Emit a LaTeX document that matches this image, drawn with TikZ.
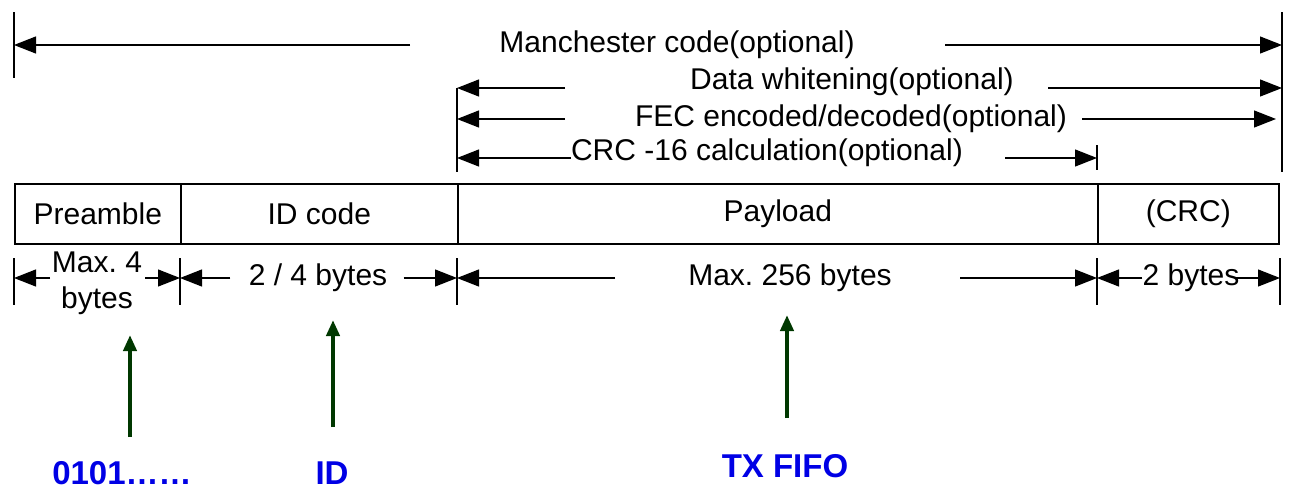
\documentclass[tikz,border=0pt]{standalone}
\usepackage{fontspec}
\setmainfont{Liberation Sans}
\usetikzlibrary{arrows.meta}
\colorlet{grx}{green!22!black}
\colorlet{blx}{blue!90!black}
\frenchspacing
\tikzset{
    dim/.style={-{Triangle[length=11pt,width=8.5pt]},line width=0.6pt},
    tick/.style={line width=0.6pt},
    lbl/.style={inner sep=0pt,font=\fontsize{15}{18}\selectfont},
    field/.style={draw,line width=0.8pt,anchor=north west,inner sep=0pt,
        minimum height=30pt,font=\fontsize{15}{18}\selectfont},
    up/.style={grx,line width=2pt,-{Triangle[length=8pt,width=6.5pt]}},
    src/.style={blx,inner sep=0pt,font=\bfseries\fontsize{16.5}{19}\selectfont}
}
\begin{document}
\begin{tikzpicture}[x=0.5pt,y=-0.5pt]
            \useasboundingbox (0,0) rectangle (1296,493);
            % frame fields
            \node [field,minimum width=83pt] (pre) at (14,183) {Preamble};
            \node [field,minimum width=138.5pt] (idc) at (180,183) {ID code};
            \node [field,minimum width=320pt] (pay) at (457,183) {Payload};
            \node [field,minimum width=90.5pt] (crc) at (1097,183) {(CRC)};
            % upper ticks
            \coordinate (l0) at (14,12);
            \coordinate (l1) at (14,78);
            \coordinate (r0) at (1282,12);
            \coordinate (r1) at (1282,172);
            \coordinate (m0) at (457,88);
            \coordinate (m1) at (457,172);
            \coordinate (c0) at (1097,145);
            \coordinate (c1) at (1097,170);
            \foreach \a/\b in {l0/l1,r0/r1,m0/m1,c0/c1} {
                \draw [tick] (\a) -- (\b);
            }
            % optional coding ranges
            \node [lbl] (man) at (677,45) {Manchester code(optional)};
            \coordinate (manL) at (410,45);
            \coordinate (manR) at (945,45);
            \draw [dim] (manL) -- (l0 |- manL);
            \draw [dim] (manR) -- (r0 |- manR);
            \node [lbl] (wht) at (852,82) {Data whitening(optional)};
            \coordinate (whtL) at (565,88);
            \coordinate (whtR) at (1048,88);
            \draw [dim] (whtL) -- (m0 |- whtL);
            \draw [dim] (whtR) -- (r0 |- whtR);
            \node [lbl] (fec) at (851,119) {FEC encoded/decoded(optional)};
            \coordinate (fecL) at (565,119);
            \coordinate (fecR) at (1082,119);
            \draw [dim] (fecL) -- (m0 |- fecL);
            \draw [dim] (fecR) -- (1276,119);
            \node [lbl] (crcc) at (767,153) {CRC -16 calculation(optional)};
            \coordinate (crcL) at (571,158);
            \coordinate (crcR) at (1005,158);
            \draw [dim] (crcL) -- (m0 |- crcL);
            \draw [dim] (crcR) -- (c0 |- crcR);
            % lower ticks
            \foreach \n/\x in {b0/14,b1/180,b2/457,b3/1097,b4/1280} {
                \coordinate (\n) at (\x,258);
                \draw [tick] (\n) -- (\x,305);
            }
            % field lengths
            \node [lbl,align=center] (lpre) at (97,283) {Max. 4\\bytes};
            \draw [dim] (50,278) -- (b0 |- 0,278);
            \draw [dim] (145,278) -- (b1 |- 0,278);
            \node [lbl] (lidc) at (318,278) {2 / 4 bytes};
            \draw [dim] (lidc.west) ++(-18,0) -- (b1 |- 0,278);
            \draw [dim] (lidc.east) ++(16,0) -- (b2 |- 0,278);
            \node [lbl] (lpay) at (790,278) {Max. 256 bytes};
            \draw [dim] (615,278) -- (b2 |- 0,278);
            \draw [dim] (960,278) -- (b3 |- 0,278);
            \node [lbl] (lcrc) at (1191,278) {2 bytes};
            \draw [dim] (lcrc.west) -- (b3 |- 0,278);
            \draw [dim] (lcrc.east) ++(-5,0) -- (b4 |- 0,278);
            % data sources
            \node [src] (s1) at (122,473) {0101……};
            \node [src] (s2) at (332,473) {ID};
            \node [src] (s3) at (785,466) {TX FIFO};
            \coordinate (s1t) at (130,437);
            \coordinate (s2t) at (333,427);
            \coordinate (s3t) at (787,418);
            \draw [up] (s1t) -- (130,335);
            \draw [up] (s2t) -- (333,320);
            \draw [up] (s3t) -- (787,315);
        \end{tikzpicture}
\end{document}
